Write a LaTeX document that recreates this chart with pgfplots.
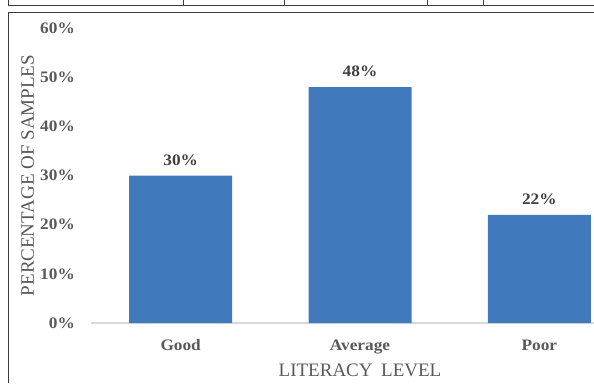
\documentclass[border=0pt]{standalone}
\usepackage{pgfplots}
\pgfplotsset{compat=1.18}
\usetikzlibrary{calc}
\usepackage{fontspec}
\setmainfont{Liberation Serif}
\newfontfamily\tickfont{Liberation Serif}[FakeStretch=1.08]
\definecolor{barblue}{RGB}{65,121,189}
\definecolor{tickgray}{RGB}{89,89,89}
\definecolor{labgray}{RGB}{64,64,64}
\definecolor{framegray}{RGB}{60,60,60}
\begin{document}
\begin{tikzpicture}[x=1pt,y=1pt]
\begin{axis}[
  scale only axis, width=538pt, height=295pt,
  xmin=-0.5, xmax=2.5, ymin=0, ymax=60,
  ybar, bar width=103pt,
  axis x line=bottom, axis y line=left,
  y axis line style={draw=none},
  x axis line style={draw=black!15, line width=1.2pt, -},
  major tick length=0pt,
  xtick={0,1,2}, xticklabels={Good,Average,Poor},
  ytick={0,10,...,60},
  yticklabel={\pgfmathprintnumber{\tick}\%},
  /pgf/number format/assume math mode=true,
  yticklabel style={font=\tickfont\bfseries\fontsize{16}{18}\selectfont, text=tickgray, anchor=east, inner sep=0pt, xshift=-16pt},
  xticklabel style={font=\tickfont\bfseries\fontsize{16}{18}\selectfont, text=tickgray, anchor=base, inner sep=0pt, yshift=-27.5pt},
  nodes near coords={\pgfmathprintnumber{\pgfplotspointmeta}\%},
  nodes near coords style={font=\tickfont\bfseries\fontsize{16}{18}\selectfont, text=labgray, anchor=base, inner sep=0pt, yshift=10.5pt},
  xlabel={LITERACY\hspace{0.45em}LEVEL},
  ylabel={PERCENTAGE OF SAMPLES},
  xlabel style={font=\fontsize{19}{21}\selectfont, text=tickgray, at={(axis description cs:0.5,-0.182)}, anchor=base, inner sep=0pt},
  ylabel style={font=\fontsize{19}{21}\selectfont, text=tickgray, at={(axis description cs:-0.106,0.5)}, anchor=base, rotate=0, inner sep=0pt},
  clip=false,
]
\addplot[fill=barblue, draw=none] coordinates {(0,30) (1,48) (2,22)};
\coordinate (O) at (rel axis cs:0,0);
\end{axis}
% frame and table fragment, relative to the axis origin (pixel 91,323 of the page)
\begin{scope}[shift={(O)}, xshift=-91pt, yshift=-60pt]
\draw[framegray, line width=1.2pt] (8.5,383) -- (8.5,377.3) -- (594,377.3);
\foreach \xx in {183,284,427,483} {\draw[framegray, line width=1pt] (\xx,383) -- (\xx,377.3);}
\draw[framegray, line width=1.2pt] (8.5,0) -- (8.5,370.5) -- (594,370.5);
\end{scope}
\pgfresetboundingbox
\path[use as bounding box] ($(O)+(-91,-60)$) rectangle ($(O)+(503,323)$);
\end{tikzpicture}
\end{document}
